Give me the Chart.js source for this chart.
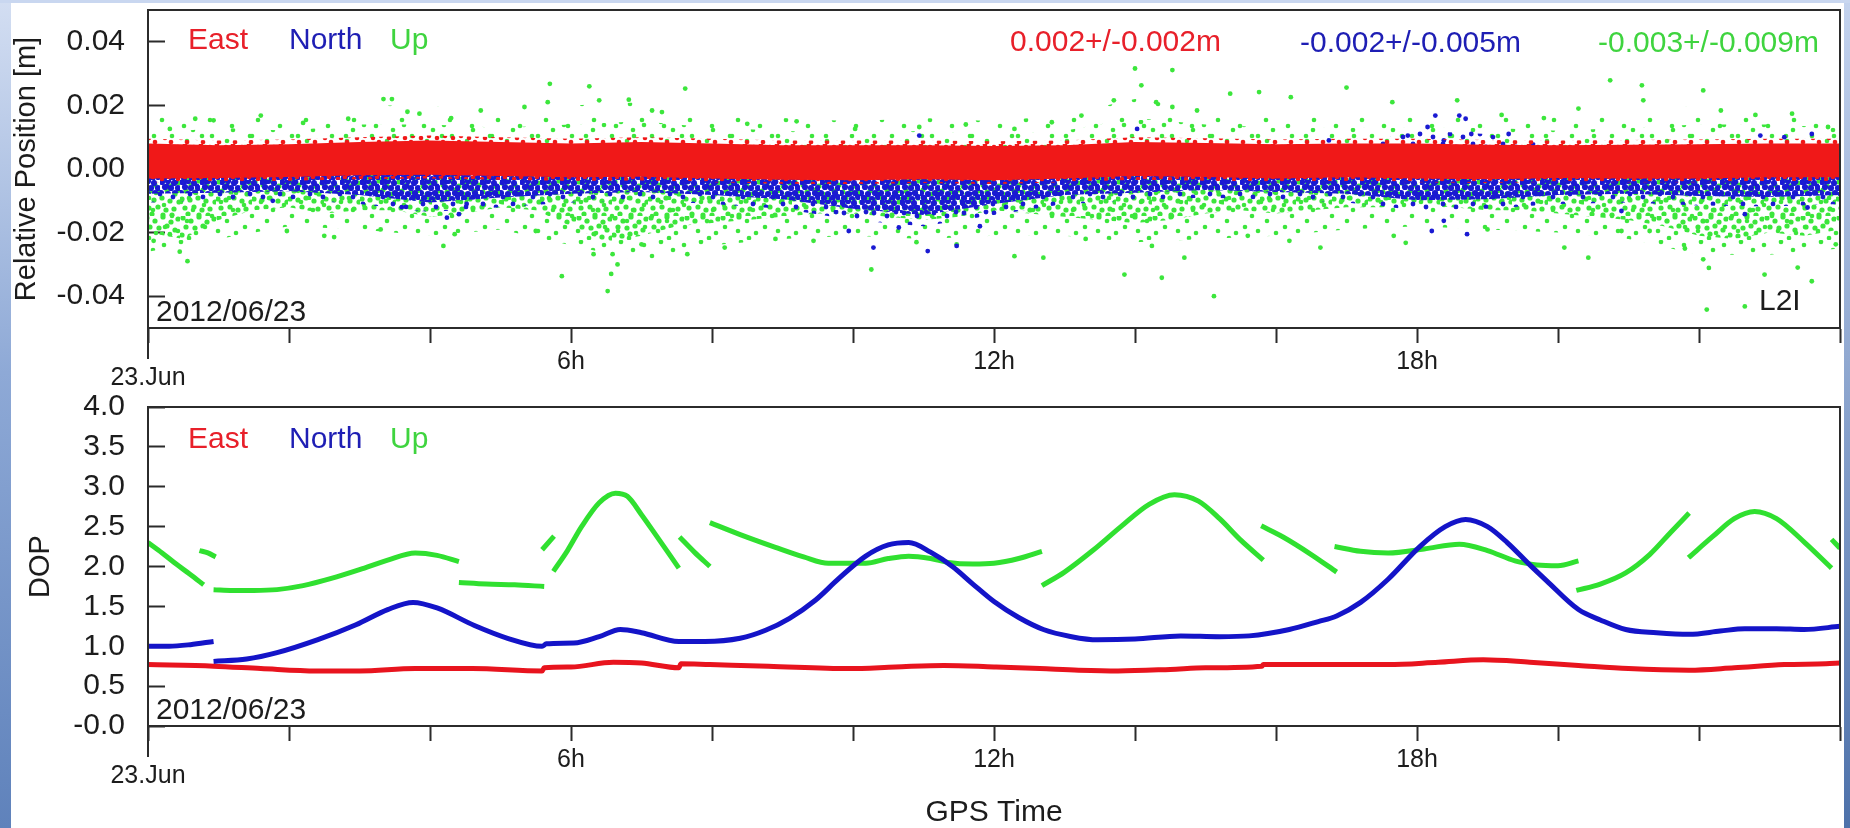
<!DOCTYPE html>
<html lang="en">
<head>
  <meta charset="UTF-8">
  <title>Relative position and DOP, 2012/06/23</title>
  <script src="https://cdn.jsdelivr.net/npm/chart.js"></script>
  <style>
    html, body{margin:0; padding:0;}
    body{width:1850px; height:828px; position:relative; overflow:hidden; background:#fff; font-family:'Liberation Sans', Arial, sans-serif;}
    #edgeL{position:absolute; left:0; top:0; width:11px; height:828px; background:linear-gradient(#d3def2, #8ea9d6 45%, #5f82bb);}
    #edgeR{position:absolute; right:0; top:0; width:6px; height:828px; background:linear-gradient(#c4d3ee, #4d71aa);}
    #edgeT{position:absolute; left:0; top:0; width:1850px; height:3px; background:#c9d7f0;}
    canvas{position:absolute; left:0;}
    #posChart{top:0;}
    #dopChart{top:387px;}
    .lbl{position:absolute; font-size:30px; line-height:30px; white-space:nowrap;}
    .e{color:#e8202a;} .n{color:#1e1eb4;} .u{color:#3fd43f;} .k{color:#1c1c1c;}
  </style>
</head>
<body>
  <div id="edgeL"></div><div id="edgeR"></div><div id="edgeT"></div>
  <canvas id="posChart" width="1850" height="395"></canvas>
  <canvas id="dopChart" width="1850" height="441"></canvas>

  <!-- top panel texts -->
  <span class="lbl e" style="left:188px; top:24px;">East</span>
  <span class="lbl n" style="left:289px; top:24px;">North</span>
  <span class="lbl u" style="left:390px; top:24px;">Up</span>
  <span class="lbl e" style="left:1010px; top:26px;">0.002+/-0.002m</span>
  <span class="lbl n" style="left:1300px; top:27px;">-0.002+/-0.005m</span>
  <span class="lbl u" style="left:1598px; top:27px;">-0.003+/-0.009m</span>
  <span class="lbl k" style="left:1759px; top:285px;">L2I</span>
  <span class="lbl k" style="left:156px; top:296px;">2012/06/23</span>
  <!-- bottom panel texts -->
  <span class="lbl e" style="left:188px; top:423px;">East</span>
  <span class="lbl n" style="left:289px; top:423px;">North</span>
  <span class="lbl u" style="left:390px; top:423px;">Up</span>
  <span class="lbl k" style="left:156px; top:694px;">2012/06/23</span>

  <script>
    // ---------- relative position (top panel), in metres ----------
    // envelopes of the dense point bands, read every hour
    const bandHours = [0,1,2,3,4,5,6,7,8,9,10,11,12,13,14,15,16,17,18,19,20,21,22,23,24];
    const eastTop = [0.0080,0.0075,0.0078,0.0085,0.0090,0.0085,0.0080,0.0085,0.0080,0.0075,0.0075,0.0075,0.0072,0.0075,0.0085,0.0082,0.0078,0.0080,0.0080,0.0076,0.0075,0.0076,0.0078,0.0080,0.0080];
    const eastBottom = [-0.0030,-0.0028,-0.0025,-0.0020,-0.0018,-0.0022,-0.0026,-0.0024,-0.0030,-0.0034,-0.0035,-0.0032,-0.0035,-0.0030,-0.0022,-0.0025,-0.0030,-0.0026,-0.0030,-0.0032,-0.0028,-0.0030,-0.0030,-0.0026,-0.0026];
    const eastOuterTop = [0.0095,0.0090,0.0093,0.0100,0.0105,0.0100,0.0095,0.0100,0.0095,0.0090,0.0090,0.0090,0.0087,0.0090,0.0100,0.0097,0.0093,0.0095,0.0095,0.0091,0.0090,0.0091,0.0093,0.0095,0.0095];
    const eastOuterBottom = [-0.0042,-0.0040,-0.0037,-0.0032,-0.0030,-0.0034,-0.0038,-0.0036,-0.0042,-0.0046,-0.0047,-0.0044,-0.0047,-0.0042,-0.0034,-0.0037,-0.0042,-0.0038,-0.0042,-0.0044,-0.0040,-0.0042,-0.0042,-0.0038,-0.0038];
    const northTop = [0.003,0.003,0.003,0.003,0.003,0.003,0.003,0.003,0.003,0.003,0.003,0.003,0.003,0.003,0.004,0.003,0.004,0.007,0.012,0.011,0.007,0.005,0.007,0.008,0.006];
    const northBottom = [-0.0078,-0.0075,-0.0070,-0.0082,-0.0105,-0.0090,-0.0078,-0.0072,-0.0082,-0.0095,-0.0125,-0.0145,-0.0110,-0.0082,-0.0075,-0.0066,-0.0072,-0.0078,-0.0098,-0.0095,-0.0082,-0.0078,-0.0085,-0.0088,-0.0082];
    const northOuterBottom = [-0.0105,-0.0100,-0.0095,-0.0110,-0.0135,-0.0120,-0.0105,-0.0098,-0.0110,-0.0125,-0.0160,-0.0180,-0.0145,-0.0110,-0.0100,-0.0090,-0.0098,-0.0105,-0.0130,-0.0125,-0.0110,-0.0105,-0.0115,-0.0118,-0.0110];
    const upTop = [0.011,0.013,0.012,0.014,0.014,0.013,0.014,0.015,0.013,0.012,0.011,0.012,0.011,0.012,0.016,0.014,0.013,0.013,0.013,0.013,0.012,0.013,0.014,0.014,0.013];
    const upOuterTop = [0.016,0.018,0.017,0.020,0.020,0.018,0.020,0.021,0.018,0.016,0.015,0.016,0.015,0.017,0.022,0.019,0.018,0.018,0.018,0.018,0.017,0.018,0.020,0.019,0.018];
    const upOuterBottom = [-0.026,-0.022,-0.018,-0.019,-0.021,-0.019,-0.024,-0.029,-0.024,-0.022,-0.021,-0.022,-0.021,-0.021,-0.023,-0.022,-0.021,-0.019,-0.018,-0.019,-0.020,-0.022,-0.027,-0.027,-0.025];
    // dense lower green band read every half hour
    const upLowHours = [0,0.5,1,1.5,2,2.5,3,3.5,4,4.5,5,5.5,6,6.5,7,7.5,8,8.5,9,9.5,10,10.5,11,11.5,12,12.5,13,13.5,14,14.5,15,15.5,16,16.5,17,17.5,18,18.5,19,19.5,20,20.5,21,21.5,22,22.5,23,23.5,24];
    const upBottom = [-0.020,-0.022,-0.016,-0.013,-0.012,-0.014,-0.013,-0.013,-0.015,-0.014,-0.012,-0.013,-0.018,-0.023,-0.021,-0.018,-0.017,-0.016,-0.015,-0.014,-0.014,-0.015,-0.016,-0.015,-0.013,-0.014,-0.015,-0.016,-0.017,-0.016,-0.014,-0.013,-0.014,-0.013,-0.012,-0.012,-0.011,-0.012,-0.013,-0.013,-0.014,-0.015,-0.016,-0.018,-0.021,-0.022,-0.020,-0.021,-0.019];

    // single points outside the bands [hour, m]
    const northScatter = [[1.77,-0.010],[3.6,-0.012],[4.24,-0.0153],[4.41,-0.0142],[4.52,-0.011],[9.94,-0.0195],[10.29,-0.0247],[10.65,-0.0184],[10.94,0.0105],[11.06,-0.0258],[11.47,-0.0242],[11.8,-0.018],[14.03,0.0126],[16.75,0.009],[17.87,0.0105],[18.15,0.0132],[18.26,0.0168],[18.38,0.009],[18.6,0.0168],[18.69,0.0158],[18.77,0.011],[19.3,0.011],[18.21,-0.0195],[18.38,-0.0163],[18.71,-0.0205],[20.9,-0.0132],[22.65,-0.0142],[22.87,0.0105],[23.21,0.010],[23.54,-0.0121],[23.6,0.011]];
    const upScatter = [[0.31,0.0126],[0.67,0.0158],[0.93,0.0153],[1.6,0.0168],[2.2,0.0145],[2.84,0.0158],[3.34,0.022],[3.46,0.022],[3.68,0.018],[3.85,0.0174],[4.3,0.016],[4.72,0.0184],[5.34,0.0195],[5.67,0.021],[5.7,0.0268],[6.26,0.026],[6.4,0.0216],[6.82,0.0218],[7.15,0.0184],[7.29,0.0179],[7.62,0.0253],[8.5,0.0142],[9.2,0.015],[10.03,0.0126],[10.94,0.0132],[11.6,0.014],[12.29,0.0126],[12.82,0.0147],[13.24,0.0168],[13.7,0.0216],[14.0,0.0316],[14.09,0.0263],[14.3,0.021],[14.53,0.0311],[14.53,0.0195],[14.88,0.0184],[15.35,0.0237],[15.76,0.0242],[16.21,0.0226],[17.0,0.0256],[17.65,0.021],[18.57,0.0216],[19.2,0.017],[19.8,0.016],[20.29,0.019],[20.74,0.0279],[21.19,0.0263],[21.21,0.0216],[22.06,0.0247],[22.31,0.0184],[22.8,0.017],[23.32,0.0174],[23.83,0.0132],
      [0.08,-0.0226],[0.31,-0.0205],[0.45,-0.026],[0.56,-0.029],[1.97,-0.0195],[2.5,-0.021],[2.64,-0.0214],[3.3,-0.019],[4.19,-0.0242],[4.35,-0.0205],[5.5,-0.0195],[5.87,-0.0337],[6.32,-0.0268],[6.52,-0.0384],[6.57,-0.033],[6.59,-0.0268],[6.66,-0.030],[7.0,-0.0237],[7.65,-0.0268],[8.18,-0.0247],[8.9,-0.022],[9.44,-0.0226],[10.26,-0.0316],[10.9,-0.023],[11.47,-0.0237],[12.29,-0.0274],[12.7,-0.0279],[13.3,-0.022],[13.85,-0.0332],[14.24,-0.0242],[14.38,-0.0342],[14.7,-0.0279],[15.12,-0.040],[15.6,-0.021],[16.19,-0.0226],[16.63,-0.0247],[17.67,-0.021],[17.84,-0.0232],[19.0,-0.019],[20.09,-0.0247],[20.43,-0.0279],[20.9,-0.0195],[21.3,-0.0195],[21.8,-0.025],[22.06,-0.0284],[22.11,-0.0442],[22.14,-0.0311],[22.65,-0.0432],[22.93,-0.0332],[23.4,-0.031],[23.6,-0.0353],[23.94,-0.0237]];

    // ---------- DOP (bottom panel) [hour, dop] ----------
    const dopEast = [[0,0.77],[0.93,0.75],[1.6,0.72],[2.39,0.69],[3.0,0.69],[3.79,0.72],[4.6,0.72],[5.59,0.69],[5.62,0.73],[6.0,0.74],[6.6,0.80],[7.0,0.79],[7.53,0.73],[7.56,0.78],[7.97,0.77],[8.8,0.75],[9.94,0.72],[10.6,0.74],[11.29,0.76],[12.0,0.74],[12.65,0.72],[13.2,0.70],[13.76,0.69],[14.5,0.71],[15.0,0.73],[15.8,0.75],[15.82,0.77],[17.59,0.77],[18.3,0.80],[18.94,0.83],[19.6,0.80],[20.29,0.76],[21.0,0.72],[21.86,0.70],[22.5,0.73],[23.21,0.77],[23.8,0.78],[24,0.79]];
    const dopNorth = [
      [[0,1.00],[0.3,1.00],[0.6,1.02],[0.93,1.06]],
      [[0.93,0.81],[1.4,0.84],[1.83,0.92],[2.4,1.08],[2.95,1.27],[3.4,1.46],[3.76,1.55],[4.1,1.48],[4.63,1.26],[5.1,1.10],[5.59,1.00],[5.65,1.03],[6.04,1.04],[6.4,1.12],[6.7,1.21],[7.0,1.17],[7.53,1.06],[7.9,1.06],[8.4,1.10],[8.76,1.20],[9.1,1.35],[9.47,1.58],[9.8,1.85],[10.18,2.13],[10.5,2.27],[10.79,2.30],[11.1,2.18],[11.41,2.00],[11.7,1.78],[12.0,1.56],[12.35,1.36],[12.7,1.21],[13.1,1.12],[13.47,1.08],[14.0,1.09],[14.65,1.13],[15.2,1.12],[15.62,1.13],[16.19,1.21],[16.6,1.31],[16.86,1.38],[17.2,1.55],[17.59,1.84],[18.04,2.25],[18.4,2.50],[18.69,2.59],[19.0,2.50],[19.28,2.30],[19.6,2.02],[19.84,1.82],[20.29,1.46],[20.6,1.33],[20.96,1.21],[21.4,1.17],[21.86,1.15],[22.3,1.19],[22.65,1.22],[23.1,1.22],[23.49,1.21],[24,1.25]]
    ];
    const dopUp = [
      [[0,2.30],[0.2,2.17],[0.4,2.03],[0.6,1.90],[0.79,1.77]],
      [[0.73,2.20],[0.85,2.17],[0.96,2.12]],
      [[0.93,1.71],[1.2,1.70],[1.5,1.70],[1.83,1.71],[2.2,1.76],[2.6,1.85],[3.0,1.96],[3.4,2.08],[3.79,2.17],[4.1,2.14],[4.41,2.06]],
      [[4.41,1.80],[4.8,1.78],[5.2,1.77],[5.62,1.75]],
      [[5.59,2.21],[5.76,2.38]],
      [[5.75,1.94],[5.95,2.20],[6.15,2.50],[6.4,2.80],[6.63,2.92],[6.8,2.88],[7.0,2.65],[7.2,2.40],[7.53,1.98]],
      [[7.54,2.37],[7.75,2.18],[7.97,2.00]],
      [[7.97,2.55],[8.4,2.40],[8.9,2.24],[9.3,2.12],[9.65,2.04],[10.18,2.04],[10.5,2.10],[10.79,2.13],[11.1,2.10],[11.35,2.05],[11.7,2.03],[12.0,2.04],[12.35,2.10],[12.68,2.19]],
      [[12.68,1.76],[13.0,1.93],[13.4,2.20],[13.8,2.50],[14.2,2.78],[14.56,2.90],[14.9,2.82],[15.2,2.60],[15.5,2.33],[15.82,2.08]],
      [[15.79,2.51],[16.1,2.37],[16.5,2.15],[16.86,1.93]],
      [[16.83,2.25],[17.2,2.19],[17.59,2.17],[18.1,2.22],[18.6,2.28],[19.0,2.20],[19.39,2.07],[19.7,2.02],[20.0,2.01],[20.29,2.07]],
      [[20.26,1.70],[20.6,1.78],[20.96,1.92],[21.3,2.15],[21.6,2.43],[21.86,2.67]],
      [[21.85,2.11],[22.2,2.38],[22.5,2.60],[22.79,2.69],[23.1,2.60],[23.5,2.30],[23.88,1.98]],
      [[23.88,2.34],[24,2.23]]
    ];

    // ---------- ticks ----------
    const hourTicks = [0,2,4,6,8,10,12,14,16,18,20,22,24];
    const hourLabelAt = [0,6,12,18];
    const hourLabelText = ['23.Jun','6h','12h','18h'];
    const posTicks = [-0.04,-0.02,0,0.02,0.04];
    const posTickLabels = ['-0.04','-0.02','0.00','0.02','0.04'];
    const dopTicks = [0,0.5,1,1.5,2,2.5,3,3.5,4];
    const dopTickLabels = ['-0.0','0.5','1.0','1.5','2.0','2.5','3.0','3.5','4.0'];

    const FONT = "'Liberation Sans', Arial, sans-serif";
    const INK = '#2b2b2b';
    const RED = '#f01818', BLUE = '#1a1ad2', GREEN = '#3ce63c';
    Chart.defaults.font.family = FONT;

    function pts(xs, ys){ return xs.map((x, i) => ({x: x, y: ys[i]})); }
    function pairs(list){ return list.map(p => ({x: p[0], y: p[1]})); }
    // join segments, a null between them breaks the line
    function segs(list){
      let out = [];
      list.forEach((s, i) => {
        if(i) out.push({x: s[0][0], y: null});
        s.forEach(p => out.push({x: p[0], y: p[1]}));
      });
      return out;
    }
    // speckled fill so the bands look like dense clouds of dots
    function dots(color, size, spots, r){
      const c = document.createElement('canvas');
      c.width = c.height = size;
      const g = c.getContext('2d');
      g.fillStyle = color;
      spots.forEach(s => { g.beginPath(); g.arc(s[0], s[1], r, 0, Math.PI*2); g.fill(); });
      return g.createPattern(c, 'repeat');
    }
    const redSparse = dots(RED, 16, [[2,3],[9,1],[13,8],[5,10],[11,14]], 2.3);
    const blueDense = dots(BLUE, 20, [[2,2],[8,1],[14,3],[18,8],[5,7],[11,8],[1,13],[8,14],[15,13],[4,18],[12,19],[18,17]], 3.1);
    const blueSparse = dots(BLUE, 30, [[4,3],[17,6],[26,2],[10,14],[23,17],[3,24],[16,27]], 2.4);
    const greenDense = dots(GREEN, 36, [[3,2],[11,5],[19,1],[27,6],[34,3],[6,11],[15,12],[23,10],[31,14],[2,19],[10,20],[18,18],[26,21],[35,22],[5,28],[14,27],[22,30],[30,29],[8,34],[19,35],[28,35]], 2.6);
    const greenSparse = dots(GREEN, 40, [[4,5],[21,2],[33,10],[12,16],[27,21],[5,27],[18,31],[36,33],[29,38]], 2.3);
    const greenThin = dots(GREEN, 48, [[6,8],[30,4],[18,24],[40,30],[10,40]], 2.3);

    // box round the plot + long tick at the start of the day
    const framePlugin = {
      id: 'frame',
      afterDraw(chart){
        const {ctx, chartArea: a, scales} = chart;
        ctx.save();
        ctx.strokeStyle = INK;
        ctx.lineWidth = 2;
        ctx.strokeRect(a.left, a.top, a.right - a.left, a.bottom - a.top);
        const x0 = scales.x.getPixelForValue(0);
        ctx.beginPath();
        ctx.moveTo(x0, a.bottom);
        ctx.lineTo(x0, a.bottom + 31);
        ctx.stroke();
        ctx.restore();
      }
    };

    function hourAxis(h, title){
      return {
        type: 'linear', min: 0, max: 24,
        afterBuildTicks: s => { s.ticks = hourTicks.map(v => ({value: v})); },
        afterFit: s => { s.height = h; s.paddingLeft = 0; s.paddingRight = 0; },
        grid: {drawOnChartArea: false, drawTicks: true, tickLength: 15, tickWidth: 2, tickColor: INK},
        border: {display: true, color: INK, width: 2},
        ticks: {
          autoSkip: false, maxRotation: 0, padding: 11, color: '#1c1c1c',
          font: {size: 25, lineHeight: '16px'},
          callback: v => {
            const i = hourLabelAt.indexOf(v);
            if(i < 0) return '';
            return v === 0 ? ['', hourLabelText[i]] : hourLabelText[i];
          }
        },
        title: title ? {display: true, text: title, color: '#1c1c1c', font: {size: 30, lineHeight: 1}, padding: {top: 0, bottom: 0}} : {display: false}
      };
    }
    function valueAxis(min, max, ticks, labels, title, titlePad){
      return {
        type: 'linear', min: min, max: max,
        afterBuildTicks: s => { s.ticks = ticks.map(v => ({value: v})); },
        afterFit: s => { s.width = 148; s.paddingTop = 0; s.paddingBottom = 0; },
        grid: {drawOnChartArea: false, drawTicks: true, tickLength: -17, tickWidth: 2, tickColor: INK},
        border: {display: true, color: INK, width: 2},
        ticks: {
          padding: 40, color: '#1c1c1c', font: {size: 30},
          callback: v => { const i = ticks.findIndex(t => Math.abs(t - v) < 1e-9); return i < 0 ? '' : labels[i]; }
        },
        title: {display: true, text: title, color: '#1c1c1c', font: {size: 29}, padding: {top: titlePad, bottom: 0}}
      };
    }
    const common = {
      responsive: false, animation: false, events: [],
      plugins: {legend: {display: false}, tooltip: {enabled: false}}
    };

    // ----- relative position -----
    const band = (label, xs, ys, color) => ({label: label, data: pts(xs, ys), fill: 'origin', backgroundColor: color, borderColor: 'rgba(0,0,0,0)', borderWidth: 0, pointRadius: 0});
    const spots = (label, list, color) => ({label: label, data: pairs(list), showLine: false, fill: false, pointRadius: 2.4, pointBorderWidth: 0, pointBackgroundColor: color, backgroundColor: color});

    // earlier datasets are drawn on top: East over North over Up
    new Chart(document.getElementById('posChart'), {
      type: 'line',
      data: {
        datasets: [
          band('East', bandHours, eastTop, RED),
          band('East', bandHours, eastBottom, RED),
          band('East', bandHours, eastOuterTop, redSparse),
          band('East', bandHours, eastOuterBottom, redSparse),
          spots('North', northScatter, BLUE),
          band('North', bandHours, northTop, blueSparse),
          band('North', bandHours, northBottom, blueDense),
          band('North', bandHours, northOuterBottom, blueSparse),
          spots('Up', upScatter, GREEN),
          band('Up', bandHours, upTop, greenSparse),
          band('Up', bandHours, upOuterTop, greenThin),
          band('Up', upLowHours, upBottom, greenDense),
          band('Up', bandHours, upOuterBottom, greenSparse)
        ]
      },
      options: Object.assign({}, common, {
        layout: {padding: {left: 0, top: 10, right: 10, bottom: 0}},
        scales: {
          x: hourAxis(67, null),
          y: valueAxis(-0.05, 0.05, posTicks, posTickLabels, 'Relative Position [m]', 10)
        }
      }),
      plugins: [framePlugin]
    });

    // ----- DOP -----
    const dopLine = (label, data, color) => ({label: label, data: data, borderColor: color, backgroundColor: color, borderWidth: 5, pointRadius: 0, fill: false, cubicInterpolationMode: 'monotone', borderJoinStyle: 'round'});

    new Chart(document.getElementById('dopChart'), {
      type: 'line',
      data: {
        datasets: [
          dopLine('East', pairs(dopEast), '#e8141e'),
          dopLine('North', segs(dopNorth), '#1414c8'),
          dopLine('Up', segs(dopUp), '#30e030')
        ]
      },
      options: Object.assign({}, common, {
        layout: {padding: {left: 0, top: 20, right: 10, bottom: 0}},
        scales: {
          x: hourAxis(102, 'GPS Time'),
          y: valueAxis(0, 4, dopTicks, dopTickLabels, 'DOP', 24)
        }
      }),
      plugins: [framePlugin]
    });
  </script>
</body>
</html>
